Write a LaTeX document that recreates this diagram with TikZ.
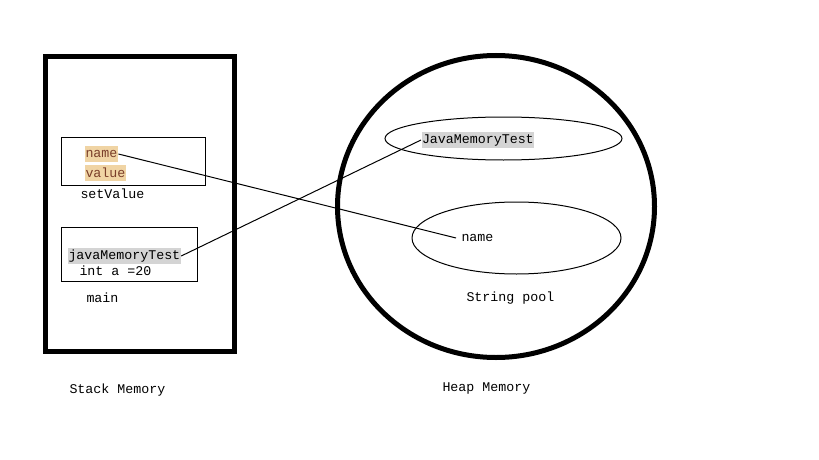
\documentclass[tikz,border=0pt]{standalone}
\usepackage{fontspec}
\setmonofont{Liberation Mono}
\definecolor{hlorange}{HTML}{F0D4A4}
\definecolor{hlgray}{HTML}{D4D4D4}
\definecolor{varbrown}{HTML}{7A3E2A}
\tikzset{
  lbl/.style={font=\ttfamily\fontsize{13.3}{15}\selectfont, inner sep=0pt, anchor=west},
  hlvar/.style={lbl, fill=hlorange, text=varbrown, minimum height=16pt, inner xsep=0.5pt},
  hlref/.style={lbl, fill=hlgray, minimum height=16pt, inner xsep=0.5pt},
  frame/.style={line width=5pt},
}
\begin{document}
\begin{tikzpicture}[x=1pt, y=-1pt, line width=1pt]
  \useasboundingbox (0,0) rectangle (819,460);

  % stack
  \draw[frame] (45.5,56.5) rectangle (234,351.5);
  \draw (61.5,137.5) rectangle (205.5,185);
  \draw (61.5,227.5) rectangle (197,281);
  \node[hlvar] (name) at (84.5,154) {name};
  \node[hlvar] (value) at (84.5,172.5) {value};
  \node[lbl] (setvalue) at (80,194) {setValue};
  \node[hlref] (jmt) at (67.5,256) {javaMemoryTest};
  \node[lbl] (inta) at (79,271) {int a =20};
  \node[lbl] (main) at (86,298) {main};
  \node[lbl] (stack) at (69,390) {Stack Memory};

  % heap
  \draw[frame] (496,206.5) ellipse [x radius=158.5, y radius=151];
  \draw (503.5,138.5) ellipse [x radius=118.5, y radius=21.5];
  \draw (516.5,238) ellipse [x radius=104.5, y radius=36];
  \node[hlref] (JMT) at (421,140) {JavaMemoryTest};
  \node[lbl, inner xsep=5pt] (poolname) at (456,238) {name};
  \node[lbl] (pool) at (466,298) {String pool};
  \node[lbl] (heap) at (442,388) {Heap Memory};

  \draw (name.east) -- (poolname.west);
  \draw (jmt.east) -- (JMT.west);
\end{tikzpicture}
\end{document}
